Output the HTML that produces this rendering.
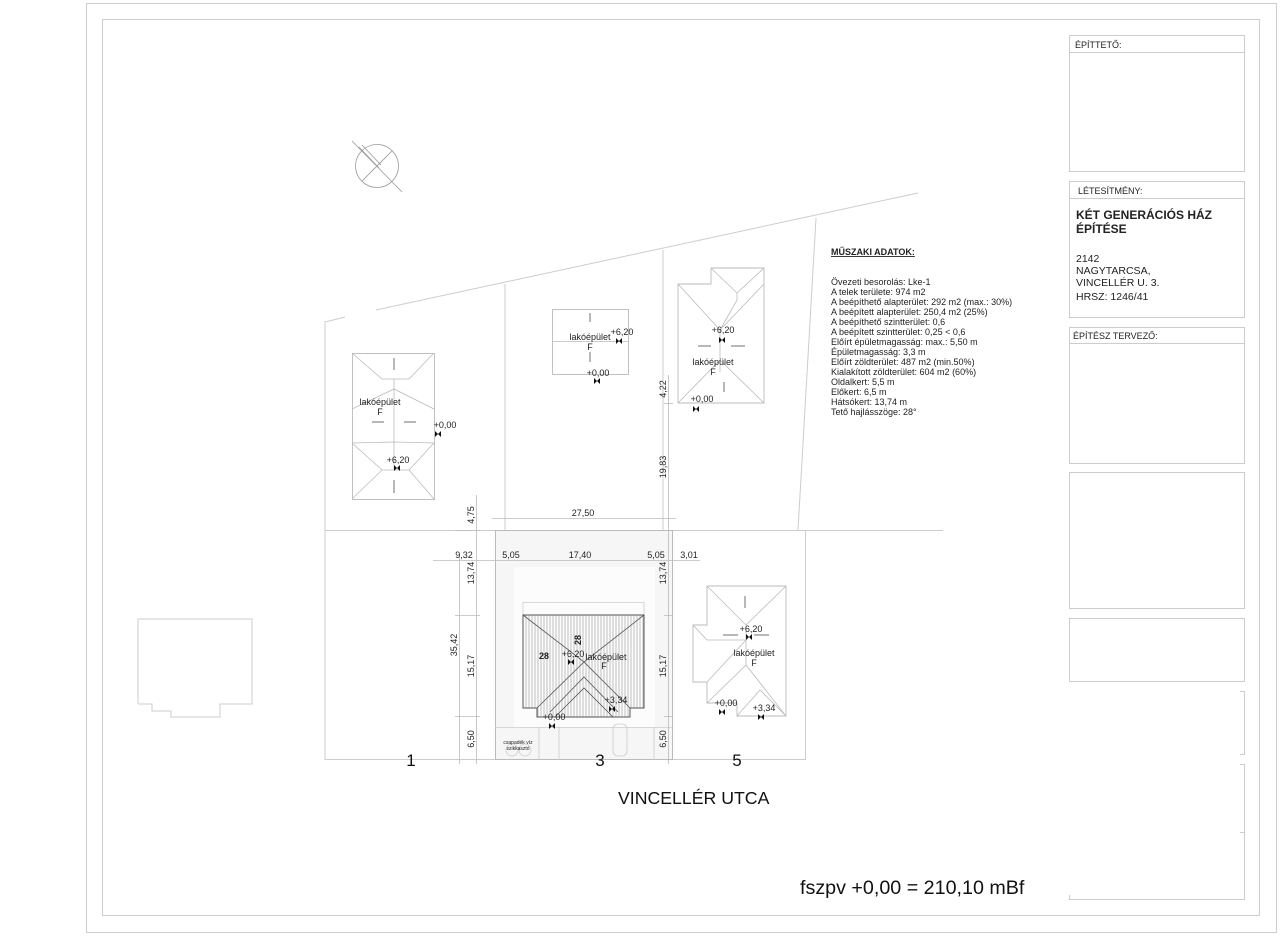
<!DOCTYPE html>
<html><head><meta charset="utf-8"><style>
html,body{margin:0;padding:0;background:#fff;}
svg{display:block;font-family:"Liberation Sans",sans-serif;}
</style></head><body>
<svg width="1280" height="941" viewBox="0 0 1280 941" xmlns="http://www.w3.org/2000/svg">
<defs>
<pattern id="hatch" width="3" height="10" patternUnits="userSpaceOnUse"><line x1="1" y1="0" x2="1" y2="10" stroke="#999" stroke-width="0.6"/></pattern>
<g id="mk"><path d="M-3,-3 L3,3 L3,-3 L-3,3 Z" fill="#111"/></g>
</defs>
<rect width="1280" height="941" fill="#fff"/>
<rect x="86.5" y="3.5" width="1190" height="929" fill="none" stroke="#ccc" stroke-width="1"/>
<rect x="102.5" y="19.5" width="1157" height="896" fill="none" stroke="#ccc" stroke-width="1"/>
<g fill="none" stroke="#ccc">
<rect x="1069.5" y="35.5" width="175" height="136"/><line x1="1069" y1="52.5" x2="1245" y2="52.5"/>
<rect x="1069.5" y="181.5" width="175" height="136"/><line x1="1069" y1="198.5" x2="1245" y2="198.5"/>
<rect x="1069.5" y="327.5" width="175" height="136"/><line x1="1069" y1="343.5" x2="1245" y2="343.5"/>
<rect x="1069.5" y="472.5" width="175" height="136"/>
<rect x="1069.5" y="618.5" width="175" height="63"/>
<path d="M1240,691.5 H1244.5 V754.5 H1240 M1240,764.5 H1244.5 V899.5 H1069.5 V895"/>
<line x1="1240" y1="832.5" x2="1244" y2="832.5"/>
</g>
<g font-size="9" fill="#222">
<text x="1075" y="48">ÉPÍTTETŐ:</text>
<text x="1078" y="194">LÉTESÍTMÉNY:</text>
<text x="1073" y="339">ÉPÍTÉSZ TERVEZŐ:</text>
<text x="1076" y="219" font-weight="bold" font-size="12">KÉT GENERÁCIÓS HÁZ</text>
<text x="1076" y="233" font-weight="bold" font-size="12">ÉPÍTÉSE</text>
<text x="1076" y="262" font-size="10.5">2142</text>
<text x="1076" y="274" font-size="10.5">NAGYTARCSA,</text>
<text x="1076" y="286" font-size="10.5">VINCELLÉR U. 3.</text>
<text x="1076" y="300" font-size="10.5">HRSZ: 1246/41</text>
</g>
<g fill="none" stroke="#999" stroke-width="0.8">
<circle cx="377" cy="166" r="21.5"/>
<line x1="352" y1="141" x2="402" y2="192"/>
<line x1="359" y1="147" x2="379" y2="168"/>
<line x1="362" y1="145" x2="381" y2="165"/>
<line x1="362" y1="181" x2="392" y2="151"/>
</g>
<g fill="none" stroke="#ccc" stroke-width="1">
<polyline points="325,760 325,322 345,317"/>
<line x1="376" y1="310" x2="918" y2="193"/>
<line x1="505" y1="284" x2="505" y2="530"/>
<line x1="663" y1="250" x2="663" y2="530"/>
<line x1="816" y1="218" x2="798" y2="530"/>
<line x1="325" y1="530.5" x2="943" y2="530.5"/>
<line x1="325" y1="759.5" x2="805" y2="759.5"/>
<line x1="805.5" y1="530" x2="805.5" y2="760"/>
<polyline points="138,704 138,619 252,619 252,704 220,704 220,717 171,717 171,711 152,711 152,704 138,704"/>
</g>
<rect x="495.5" y="530.5" width="177" height="229" fill="#f6f6f6" stroke="#bbb"/>
<rect x="514" y="567" width="141" height="160" fill="#fcfcfc"/>
<g stroke="#ccc" fill="none" stroke-width="0.8">
<line x1="495" y1="727.5" x2="672" y2="727.5"/>
<line x1="539" y1="727" x2="539" y2="760"/>
<line x1="559" y1="727" x2="559" y2="760"/>
<line x1="654" y1="727" x2="654" y2="760"/>
<line x1="523" y1="602.5" x2="644" y2="602.5"/>
<line x1="523" y1="602" x2="523" y2="615"/>
<line x1="644" y1="602" x2="644" y2="615"/>
<circle cx="512" cy="750" r="6"/><circle cx="525" cy="750" r="6"/>
<rect x="613" y="724" width="14" height="32" rx="5"/>
</g>
<polygon points="523,615 644,615 644,708 630,708 630,717 537,717 537,708 523,708" fill="url(#hatch)" stroke="#555" stroke-width="1"/>
<g stroke="#555" stroke-width="0.8" fill="none">
<polyline points="523,615 584,662 644,615"/>
<polyline points="537,708 584,662 630,708"/>
<polyline points="550,712 584,677 618,712"/>
<polyline points="555,717 584,688 613,717"/>
</g>
<g fill="#fff" stroke="#bbb" stroke-width="0.9">
<rect x="352.5" y="353.5" width="82" height="146"/>
<rect x="552.5" y="309.5" width="76" height="65"/>
<polygon points="678,284 711,284 711,268 764,268 764,403 678,403"/>
<polygon points="707,586 786,586 786,716 737,716 737,703 707,703 707,682 693,682 693,625 707,625"/>
</g>
<g fill="none" stroke="#bbb" stroke-width="0.8">
<polyline points="352,353 382,379 409,379 434,353"/>
<polyline points="352,409 394,389 434,409"/>
<polyline points="352,443 394,442 434,443"/>
<polyline points="352,499 382,470 409,470 434,499"/>
<polyline points="352,443 382,470"/><polyline points="434,443 409,470"/>
<line x1="394" y1="379" x2="394" y2="470"/>
<line x1="552" y1="341.5" x2="628" y2="341.5"/>
<polyline points="678,284 720,330 764,284"/>
<polyline points="711,268 737,293 764,268"/>
<polyline points="737,293 737,300 720,330"/>
<line x1="720" y1="330" x2="720" y2="372"/>
<polyline points="678,403 720,360 764,403"/>
<polyline points="707,586 746,625 786,586"/>
<polyline points="693,625 707,640 746,640 707,682"/>
<polyline points="707,703 746,665 786,716"/>
<polyline points="737,716 760,690 786,716"/>
<line x1="746" y1="625" x2="746" y2="665"/>
</g>
<g stroke="#333" stroke-width="0.7">
<line x1="394" y1="358" x2="394" y2="370"/><line x1="394" y1="480" x2="394" y2="493"/>
<line x1="372" y1="422" x2="384" y2="422"/><line x1="404" y1="422" x2="416" y2="422"/>
<line x1="590" y1="313" x2="590" y2="322"/><line x1="590" y1="352" x2="590" y2="362"/>
<line x1="698" y1="346" x2="711" y2="346"/><line x1="731" y1="346" x2="745" y2="346"/>
<line x1="724" y1="382" x2="724" y2="392"/>
<line x1="745" y1="596" x2="745" y2="608"/>
<line x1="723" y1="635" x2="738" y2="635"/><line x1="754" y1="635" x2="769" y2="635"/>
</g>
<g stroke="#bbb" stroke-width="0.8" fill="none">
<line x1="459.5" y1="555" x2="459.5" y2="764"/>
<line x1="476.5" y1="495" x2="476.5" y2="764"/>
<line x1="668.5" y1="375" x2="668.5" y2="764"/>
<line x1="433" y1="560.5" x2="700" y2="560.5"/>
<line x1="492" y1="518.5" x2="676" y2="518.5"/>
<line x1="455" y1="530.5" x2="480" y2="530.5"/>
<line x1="455" y1="615.5" x2="480" y2="615.5"/>
<line x1="455" y1="716.5" x2="480" y2="716.5"/>
<line x1="664" y1="615.5" x2="673" y2="615.5"/>
<line x1="664" y1="716.5" x2="673" y2="716.5"/>
<line x1="664" y1="403.5" x2="673" y2="403.5"/>
</g>
<use href="#mk" x="397" y="468"/><use href="#mk" x="438" y="434"/>
<use href="#mk" x="619" y="341"/><use href="#mk" x="597" y="381"/>
<use href="#mk" x="722" y="340"/><use href="#mk" x="696" y="409"/>
<use href="#mk" x="571" y="662"/><use href="#mk" x="612" y="709"/><use href="#mk" x="552" y="726"/>
<use href="#mk" x="749" y="637"/><use href="#mk" x="722" y="712"/><use href="#mk" x="761" y="717"/>
<g font-size="9" fill="#222" text-anchor="middle">
<text x="380" y="405">lakóépület</text><text x="380" y="415">F</text>
<text x="445" y="428">+0,00</text><text x="398" y="463">+6,20</text>
<text x="590" y="340">lakóépület</text><text x="590" y="350">F</text>
<text x="622" y="335">+6,20</text><text x="598" y="376">+0,00</text>
<text x="723" y="333">+6,20</text>
<text x="713" y="365">lakóépület</text><text x="713" y="375">F</text>
<text x="702" y="402">+0,00</text>
<text x="573" y="657">+6,20</text><text x="606" y="660">lakóépület</text><text x="604" y="669">F</text>
<text x="616" y="703">+3,34</text><text x="554" y="720">+0,00</text>
<text x="751" y="632">+6,20</text><text x="754" y="656">lakóépület</text><text x="754" y="666">F</text>
<text x="726" y="706">+0,00</text><text x="764" y="711">+3,34</text>
<text x="518" y="744" font-size="5">csapadék víz</text><text x="518" y="750" font-size="5">szikkasztó</text>
<text x="544" y="659" font-weight="bold">28</text>
<text x="464" y="558">9,32</text><text x="511" y="558">5,05</text><text x="580" y="558">17,40</text><text x="656" y="558">5,05</text><text x="689" y="558">3,01</text>
<text x="583" y="516">27,50</text>
</g>
<g font-size="9" fill="#222" text-anchor="middle">
<text transform="translate(474,515) rotate(-90)">4,75</text>
<text transform="translate(474,573) rotate(-90)">13,74</text>
<text transform="translate(474,666) rotate(-90)">15,17</text>
<text transform="translate(474,739) rotate(-90)">6,50</text>
<text transform="translate(457,645) rotate(-90)">35,42</text>
<text transform="translate(666,573) rotate(-90)">13,74</text>
<text transform="translate(666,666) rotate(-90)">15,17</text>
<text transform="translate(666,739) rotate(-90)">6,50</text>
<text transform="translate(666,389) rotate(-90)">4,22</text>
<text transform="translate(666,467) rotate(-90)">19,83</text>
<text transform="translate(581,640) rotate(-90)" font-weight="bold">28</text>
</g>
<g font-size="17" fill="#111" text-anchor="middle">
<text x="411" y="766">1</text><text x="600" y="766">3</text><text x="737" y="766">5</text>
</g>
<text x="618" y="804" font-size="17.7" fill="#111">VINCELLÉR UTCA</text>
<text x="800" y="894" font-size="19.7" fill="#111">fszpv +0,00 = 210,10 mBf</text>
<g font-size="9" fill="#222">
<text x="831" y="255" font-weight="bold" text-decoration="underline">MŰSZAKI ADATOK:</text>
<text x="831" y="285">Övezeti besorolás: Lke-1</text>
<text x="831" y="295">A telek területe: 974 m2</text>
<text x="831" y="305">A beépíthető alapterület: 292 m2 (max.: 30%)</text>
<text x="831" y="315">A beépített alapterület: 250,4 m2 (25%)</text>
<text x="831" y="325">A beépíthető szintterület: 0,6</text>
<text x="831" y="335">A beépített szintterület: 0,25 &lt; 0,6</text>
<text x="831" y="345">Előírt épületmagasság: max.: 5,50 m</text>
<text x="831" y="355">Épületmagasság: 3,3 m</text>
<text x="831" y="365">Előírt zöldterület: 487 m2 (min.50%)</text>
<text x="831" y="375">Kialakított zöldterület: 604 m2 (60%)</text>
<text x="831" y="385">Oldalkert: 5,5 m</text>
<text x="831" y="395">Előkert: 6,5 m</text>
<text x="831" y="405">Hátsókert: 13,74 m</text>
<text x="831" y="415">Tető hajlásszöge: 28°</text>
</g>
</svg>
</body></html>
